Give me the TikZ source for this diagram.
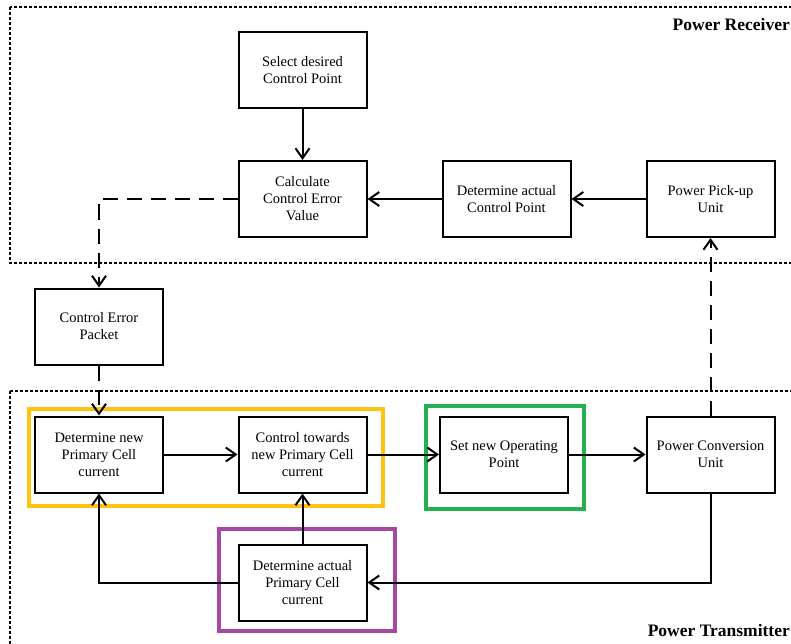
\documentclass[tikz,border=0pt]{standalone}
\usepackage{fontspec}
\setmainfont{Liberation Serif}
\usetikzlibrary{arrows.meta}

\definecolor{frameyellow}{HTML}{FFC20E}
\definecolor{framegreen}{HTML}{22B14C}
\definecolor{framepurple}{HTML}{A349A4}

\tikzset{
  block/.style={draw, line width=2pt, minimum width=128pt, minimum height=76pt,
    align=center, inner sep=2pt, font=\fontsize{14.5}{17}\selectfont},
  link/.style={line width=2pt, -{Straight Barb[length=10pt,width=14pt]}},
  wireless/.style={link, dash pattern=on 15pt off 9pt},
  zone/.style={line width=1.5pt, dash pattern=on 3pt off 2pt},
  hilite/.style={line width=3.5pt},
  zonetitle/.style={font=\bfseries\fontsize{17.5}{20}\selectfont, inner sep=0pt}
}

\begin{document}
\begin{tikzpicture}[x=1pt,y=-1pt]

    \useasboundingbox (0,0) rectangle (791,644);

    % Receiver and transmitter zones
    \draw[zone] (10,7) rectangle (840,263);
    \draw[zone] (10,391) rectangle (840,700);
    \node[zonetitle, anchor=base east] (rxtitle) at (790,31) {Power Receiver};
    \node[zonetitle, anchor=base east] (txtitle) at (790,636) {Power Transmitter};

    % Highlight frames
    \draw[hilite, frameyellow] (29,409) rectangle (383,506);
    \draw[hilite, framegreen] (426,406) rectangle (584,509);
    \draw[hilite, framepurple] (219,529) rectangle (395,631);

    % Power receiver blocks
    \node[block] (select) at (302.5,70.5) {Select desired\\Control Point};
    \node[block] (calc) at (302.5,199) {Calculate\\Control Error\\Value};
    \node[block] (actcp) at (506.5,199) {Determine actual\\Control Point};
    \node[block] (pickup) at (710.5,199) {Power Pick-up\\Unit};

    % Packet sent between the zones
    \node[block] (packet) at (99,326.5) {Control Error\\Packet};

    % Power transmitter blocks
    \node[block] (newcur) at (99,454.5) {Determine new\\Primary Cell\\current};
    \node[block] (towards) at (302.5,454.5) {Control towards\\new Primary Cell\\current};
    \node[block] (setop) at (504,454.5) {Set new Operating\\Point};
    \node[block] (conv) at (710.5,454.5) {Power Conversion\\Unit};
    \node[block] (actcur) at (302.5,582.5) {Determine actual\\Primary Cell\\current};

    % Receiver side arrows
    \draw[link] (select) -- (calc);
    \draw[link] (actcp) -- (calc);
    \draw[link] (pickup) -- (actcp);

    % Communication and power transfer
    \draw[wireless] (calc.west) -| (packet.north);
    \draw[wireless] (packet) -- (newcur);
    \draw[wireless] (conv) -- (pickup);

    % Transmitter side arrows
    \draw[link] (newcur) -- (towards);
    \draw[link] (towards) -- (setop);
    \draw[link] (setop) -- (conv);
    \draw[link] (conv.south) |- (actcur.east);
    \draw[link] (actcur.west) -| (newcur.south);
    \draw[link] (actcur) -- (towards);

\end{tikzpicture}
\end{document}
